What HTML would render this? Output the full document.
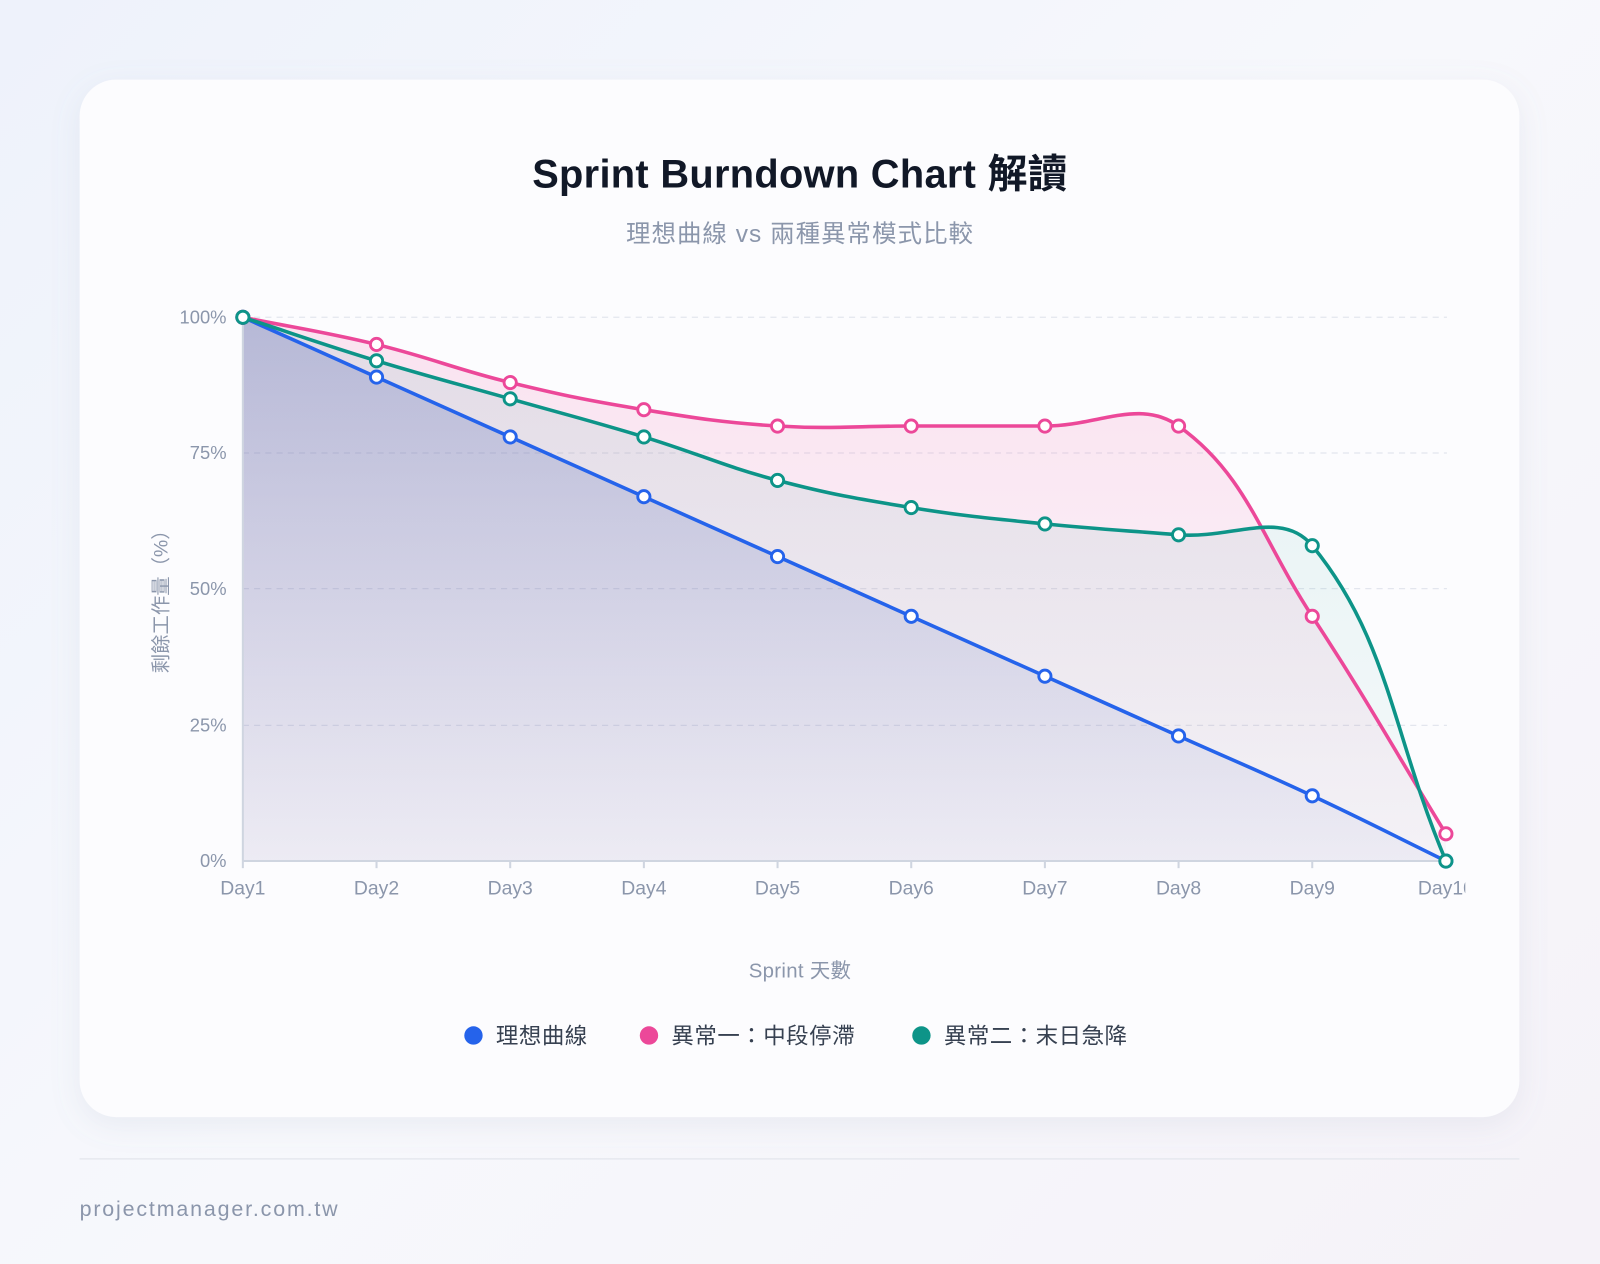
<!DOCTYPE html>
<html><head><meta charset="utf-8"><style>
html,body{margin:0;padding:0;width:1600px;height:1264px;overflow:hidden;background:linear-gradient(135deg,#eef2fb 0%,#f7f8fc 50%,#f5f2f8 100%);font-family:"Liberation Sans","Noto Sans CJK TC",sans-serif}
svg{position:absolute;left:0;top:0}
</style></head><body>
<svg id="s" width="1600" height="1264" viewBox="0 0 1568 1239" preserveAspectRatio="none">
<defs>
<filter id="sh" x="-10%" y="-10%" width="120%" height="120%"><feDropShadow dx="0" dy="8" stdDeviation="14" flood-color="#8090b0" flood-opacity="0.12"/></filter>
<linearGradient id="gb" x1="0" y1="0" x2="0" y2="1"><stop offset="0" stop-color="#4660b0" stop-opacity="0.28"/><stop offset="1" stop-color="#6070c0" stop-opacity="0.05"/></linearGradient>
<linearGradient id="gp" x1="0" y1="0" x2="0" y2="1"><stop offset="0" stop-color="#ec4899" stop-opacity="0.14"/><stop offset="1" stop-color="#ec4899" stop-opacity="0.04"/></linearGradient>
<linearGradient id="gg" x1="0" y1="0" x2="0" y2="1"><stop offset="0" stop-color="#0d9488" stop-opacity="0.1"/><stop offset="1" stop-color="#0d9488" stop-opacity="0.03"/></linearGradient>
<clipPath id="cp"><rect x="0" y="0" width="1436" height="1239"/></clipPath>
</defs>
<rect x="78" y="78" width="1411" height="1017" rx="36" fill="#fcfcfe" filter="url(#sh)"/>
<text x="784" y="184" text-anchor="middle" font-size="39" font-weight="700" fill="#111827" letter-spacing="0.3">Sprint Burndown Chart 解讀</text>
<text x="784" y="237" text-anchor="middle" font-size="24" fill="#8b96ab" letter-spacing="1">理想曲線 vs 兩種異常模式比較</text>
<g stroke="#e3e6ee" stroke-dasharray="6,5" stroke-width="1.2">
<line x1="238" x2="1418" y1="311" y2="311"/><line x1="238" x2="1418" y1="444" y2="444"/><line x1="238" x2="1418" y1="577" y2="577"/><line x1="238" x2="1418" y1="711" y2="711"/>
</g>
<g font-size="18" fill="#8b96ab" text-anchor="end">
<text x="222" y="317">100%</text><text x="222" y="450">75%</text><text x="222" y="583">50%</text><text x="222" y="717">25%</text><text x="222" y="850">0%</text>
</g>
<text transform="translate(164,585) rotate(-90)" text-anchor="middle" font-size="19" fill="#8b96ab">剩餘工作量（%）</text>
<g id="areas"></g>
<line x1="238" y1="311" x2="238" y2="844" stroke="#cfd5e0" stroke-width="2"/>
<line x1="238" y1="844" x2="1418" y2="844" stroke="#cfd5e0" stroke-width="2"/>
<g id="xl" font-size="19" fill="#8b96ab" text-anchor="middle" clip-path="url(#cp)"></g>
<g id="lines"></g>
<text x="784" y="958" text-anchor="middle" font-size="20" fill="#8b96ab" letter-spacing="0.3">Sprint 天數</text>
<g font-size="22" fill="#374151">
<circle cx="464" cy="1015" r="9" fill="#2563eb"/><text x="486" y="1023" letter-spacing="0.5">理想曲線</text>
<circle cx="636" cy="1015" r="9" fill="#ec4899"/><text x="658" y="1023" letter-spacing="0.5">異常一：中段停滯</text>
<circle cx="903" cy="1015" r="9" fill="#0d9488"/><text x="925" y="1023" letter-spacing="0.5">異常二：末日急降</text>
</g>
<line x1="78" y1="1136" x2="1489" y2="1136" stroke="#e6e8ef" stroke-width="1.5"/>
<text x="78" y="1192" font-size="21" fill="#8b96ab" letter-spacing="1.8">projectmanager.com.tw</text>
</svg>
<script>
var NS="http://www.w3.org/2000/svg";
function X(i){return 238+i*131;}function Y(v){return 844-5.33*v;}
var data=[["#2563eb","url(#gb)",[100,89,78,67,56,45,34,23,12,0]],["#ec4899","url(#gp)",[100,95,88,83,80,80,80,80,45,5]],["#0d9488","url(#gg)",[100,92,85,78,70,65,62,60,58,0]]];
function path(v){var p=v.map(function(d,i){return [X(i),Y(d)]});var t=0.4,cp=[];
for(var i=0;i<p.length;i++){var a=p[i-1]||p[i],b=p[i],c=p[i+1]||p[i];
var d1=Math.hypot(b[0]-a[0],b[1]-a[1]),d2=Math.hypot(c[0]-b[0],c[1]-b[1]);var s=d1+d2||1;
var fa=t*d1/s,fb=t*d2/s;cp.push([[b[0]-fa*(c[0]-a[0]),b[1]-fa*(c[1]-a[1])],[b[0]+fb*(c[0]-a[0]),b[1]+fb*(c[1]-a[1])]]);}
var s="M"+p[0][0]+","+p[0][1];for(var i=1;i<p.length;i++){var c1=cp[i-1][1],c2=cp[i][0];
c1[1]=Math.min(c1[1],844);c2[1]=Math.min(c2[1],844);
s+=" C"+c1[0]+","+c1[1]+" "+c2[0]+","+c2[1]+" "+p[i][0]+","+p[i][1];}return s;}
var A=document.getElementById("areas"),L=document.getElementById("lines");
[1,2,0].forEach(function(k){var d=data[k],pp=path(d[2]);
var f=document.createElementNS(NS,"path");f.setAttribute("d",pp+" L"+X(9)+",844 L238,844 Z");f.setAttribute("fill",d[1]);A.appendChild(f);});
[0,1,2].forEach(function(k){var d=data[k];var l=document.createElementNS(NS,"path");l.setAttribute("d",path(d[2]));l.setAttribute("fill","none");l.setAttribute("stroke",d[0]);l.setAttribute("stroke-width","3.5");L.appendChild(l);
d[2].forEach(function(v,i){var c=document.createElementNS(NS,"circle");c.setAttribute("cx",X(i));c.setAttribute("cy",Y(v));c.setAttribute("r","6");c.setAttribute("fill","#fff");c.setAttribute("stroke",d[0]);c.setAttribute("stroke-width","2.8");L.appendChild(c);});});
var XL=document.getElementById("xl");for(var i=0;i<10;i++){var t=document.createElementNS(NS,"text");t.setAttribute("x",X(i));t.setAttribute("y",877);t.textContent="Day"+(i+1);XL.appendChild(t);
var tk=document.createElementNS(NS,"line");tk.setAttribute("x1",X(i));tk.setAttribute("x2",X(i));tk.setAttribute("y1",844);tk.setAttribute("y2",851);tk.setAttribute("stroke","#cfd5e0");tk.setAttribute("stroke-width","2");XL.appendChild(tk);}
</script>
</body></html>
